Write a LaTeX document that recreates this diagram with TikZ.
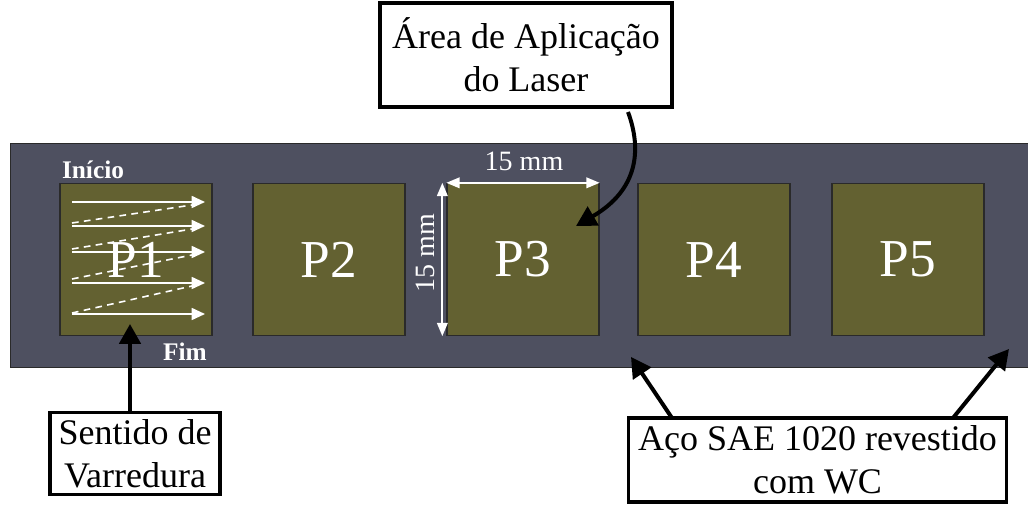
\documentclass[tikz,border=0pt]{standalone}
\usepackage{fontspec}
\setmainfont{Liberation Serif}
\usetikzlibrary{arrows.meta}
\definecolor{stripc}{HTML}{4E5060}
\definecolor{padc}{HTML}{636131}
\definecolor{edgec}{HTML}{2A2A2A}
\tikzset{
  pad/.style={draw=edgec, line width=1pt, fill=padc, minimum width=114pt, minimum height=114pt, inner sep=0pt, text=white, font=\fontsize{40}{42}\selectfont},
  callout/.style={draw=black, line width=2.3pt, fill=white, inner sep=0pt, align=center, font=\fontsize{27}{32}\selectfont},
  blackarrow/.style={draw=black, line width=3pt, -{Triangle[length=15pt,width=16pt]}},
  scan/.style={draw=white, line width=1.3pt, -{Triangle[length=10pt,width=9pt]}},
  scandash/.style={draw=white, line width=1.2pt, dashed, dash pattern=on 5pt off 4pt},
  dim/.style={draw=white, line width=1.3pt, {Triangle[length=10pt,width=8pt]}-{Triangle[length=10pt,width=8pt]}},
  whitelabel/.style={text=white, inner sep=0pt}
}
\begin{document}
\begin{tikzpicture}[x=0.75pt,y=-0.75pt]
\useasboundingbox (0,0) rectangle (1028,505);
% strip
\node[draw=edgec, line width=1pt, fill=stripc, minimum width=768pt, minimum height=168pt, inner sep=0pt, anchor=north west] (strip) at (10,143) {};
% pads
\node[pad] (p1) at (136,259.5) {};
\node[whitelabel, font=\fontsize{40}{42}\selectfont] (p1lab) at (136,259.5) {P1};
\node[pad] (p2) at (329,259.5) {P2};
\node[pad] (p3) at (523,259.5) {P3};
\node[pad] (p4) at (714,259.5) {P4};
\node[pad] (p5) at (908,259.5) {P5};
% scan arrows in P1
\coordinate (s1a) at (72,202); \coordinate (s1b) at (205,202);
\coordinate (s2a) at (72,226); \coordinate (s2b) at (205,226);
\coordinate (s3a) at (72,252); \coordinate (s3b) at (205,252);
\coordinate (s4a) at (72,283); \coordinate (s4b) at (205,283);
\coordinate (s5a) at (72,314); \coordinate (s5b) at (205,314);
\draw[scan] (s1a) -- (s1b);
\draw[scan] (s2a) -- (s2b);
\draw[scan] (s3a) -- (s3b);
\draw[scan] (s4a) -- (s4b);
\draw[scan] (s5a) -- (s5b);
\draw[scandash] (72,223) -- (192,205);
\draw[scandash] (72,249) -- (192,229);
\draw[scandash] (72,279) -- (192,255);
\draw[scandash] (72,313) -- (192,286);
\node[whitelabel, font=\fontsize{19}{21}\selectfont\bfseries] (inicio) at (93,170) {Início};
\node[whitelabel, font=\fontsize{19}{21}\selectfont\bfseries] (fim) at (185,352) {Fim};
% dimensions on P3
\draw[dim] (p3.north west) -- (p3.north east);
\draw[dim] ([xshift=-3pt]p3.north west) -- ([xshift=-3pt]p3.south west);
\node[whitelabel, font=\fontsize{21}{23}\selectfont] (dimh) at (524,161) {15 mm};
\node[whitelabel, font=\fontsize{21}{23}\selectfont, rotate=90] (dimv) at (425,253) {15 mm};
% callouts
\node[callout, minimum width=219pt, minimum height=78pt] (laser) at (526,55) {Área de Aplicação\\do Laser};
\node[callout, minimum width=127.5pt, minimum height=62pt] (sentido) at (135,453.5) {Sentido de\\Varredura};
\node[callout, minimum width=284pt, minimum height=63pt] (aco) at (817.5,460) {Aço SAE 1020 revestido\\com WC};
% arrows
\coordinate (tipsent) at (130,324);
\coordinate (tipl) at (631,357);
\coordinate (tipr) at (1009,349);
\coordinate (tiplaser) at (576,226);
\draw[blackarrow] (sentido.north -| tipsent) -- (tipsent);
\draw[blackarrow] (672,418) -- (tipl);
\draw[blackarrow] (953,418) -- (tipr);
\draw[blackarrow] (628,112) .. controls (642,150) and (638,190) .. (tiplaser);
\end{tikzpicture}
\end{document}
